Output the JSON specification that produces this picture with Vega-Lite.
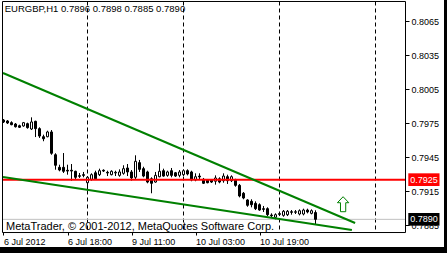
{
  "$schema": "https://vega.github.io/schema/vega-lite/v6.json",
  "width": 444,
  "height": 247,
  "autosize": {"type": "none"},
  "padding": {"left": 0, "top": 0, "right": 3, "bottom": 6},
  "background": "#000000",
  "config": {"view": {"stroke": null, "fill": "#ffffff"}, "font": "Liberation Sans"},
  "datasets": {
    "candles": [
      {"i":0,"o":0.79776,"h":0.79785,"l":0.79750,"c":0.79759},
      {"i":1,"o":0.79768,"h":0.79776,"l":0.79741,"c":0.79750},
      {"i":2,"o":0.79753,"h":0.79765,"l":0.79730,"c":0.79735},
      {"i":3,"o":0.79741,"h":0.79750,"l":0.79710,"c":0.79717},
      {"i":4,"o":0.79726,"h":0.79735,"l":0.79706,"c":0.79712},
      {"i":5,"o":0.79724,"h":0.79759,"l":0.79717,"c":0.79753},
      {"i":6,"o":0.79744,"h":0.79753,"l":0.79700,"c":0.79709},
      {"i":7,"o":0.79697,"h":0.79800,"l":0.79688,"c":0.79759},
      {"i":8,"o":0.79765,"h":0.79770,"l":0.79626,"c":0.79700},
      {"i":9,"o":0.79700,"h":0.79712,"l":0.79618,"c":0.79635},
      {"i":10,"o":0.79629,"h":0.79647,"l":0.79589,"c":0.79611},
      {"i":11,"o":0.79629,"h":0.79682,"l":0.79624,"c":0.79671},
      {"i":12,"o":0.79671,"h":0.79688,"l":0.79470,"c":0.79483},
      {"i":13,"o":0.79470,"h":0.79483,"l":0.79338,"c":0.79377},
      {"i":14,"o":0.79359,"h":0.79382,"l":0.79324,"c":0.79335},
      {"i":15,"o":0.79359,"h":0.79485,"l":0.79309,"c":0.79324},
      {"i":16,"o":0.79333,"h":0.79382,"l":0.79294,"c":0.79326},
      {"i":17,"o":0.79333,"h":0.79388,"l":0.79241,"c":0.79326},
      {"i":18,"o":0.79324,"h":0.79329,"l":0.79247,"c":0.79271},
      {"i":19,"o":0.79285,"h":0.79309,"l":0.79265,"c":0.79280},
      {"i":20,"o":0.79294,"h":0.79318,"l":0.79271,"c":0.79288},
      {"i":21,"o":0.79223,"h":0.79282,"l":0.79159,"c":0.79271},
      {"i":22,"o":0.79253,"h":0.79306,"l":0.79241,"c":0.79294},
      {"i":23,"o":0.79311,"h":0.79329,"l":0.79247,"c":0.79258},
      {"i":24,"o":0.79294,"h":0.79347,"l":0.79282,"c":0.79329},
      {"i":25,"o":0.79333,"h":0.79341,"l":0.79318,"c":0.79326},
      {"i":26,"o":0.79315,"h":0.79329,"l":0.79282,"c":0.79309},
      {"i":27,"o":0.79294,"h":0.79333,"l":0.79288,"c":0.79324},
      {"i":28,"o":0.79309,"h":0.79329,"l":0.79282,"c":0.79315},
      {"i":29,"o":0.79288,"h":0.79341,"l":0.79276,"c":0.79318},
      {"i":30,"o":0.79306,"h":0.79377,"l":0.79294,"c":0.79347},
      {"i":31,"o":0.79353,"h":0.79388,"l":0.79282,"c":0.79318},
      {"i":32,"o":0.79318,"h":0.79335,"l":0.79241,"c":0.79265},
      {"i":33,"o":0.79271,"h":0.79465,"l":0.79253,"c":0.79412},
      {"i":34,"o":0.79400,"h":0.79424,"l":0.79318,"c":0.79341},
      {"i":35,"o":0.79347,"h":0.79364,"l":0.79271,"c":0.79282},
      {"i":36,"o":0.79318,"h":0.79329,"l":0.79218,"c":0.79229},
      {"i":37,"o":0.79258,"h":0.79271,"l":0.79130,"c":0.79218},
      {"i":38,"o":0.79229,"h":0.79318,"l":0.79223,"c":0.79288},
      {"i":39,"o":0.79276,"h":0.79394,"l":0.79271,"c":0.79324},
      {"i":40,"o":0.79329,"h":0.79347,"l":0.79276,"c":0.79282},
      {"i":41,"o":0.79288,"h":0.79329,"l":0.79276,"c":0.79318},
      {"i":42,"o":0.79329,"h":0.79353,"l":0.79271,"c":0.79288},
      {"i":43,"o":0.79311,"h":0.79318,"l":0.79274,"c":0.79282},
      {"i":44,"o":0.79288,"h":0.79335,"l":0.79271,"c":0.79318},
      {"i":45,"o":0.79294,"h":0.79341,"l":0.79282,"c":0.79329},
      {"i":46,"o":0.79329,"h":0.79341,"l":0.79288,"c":0.79300},
      {"i":47,"o":0.79318,"h":0.79329,"l":0.79236,"c":0.79247},
      {"i":48,"o":0.79247,"h":0.79306,"l":0.79236,"c":0.79276},
      {"i":49,"o":0.79282,"h":0.79306,"l":0.79247,"c":0.79274},
      {"i":50,"o":0.79253,"h":0.79265,"l":0.79212,"c":0.79218},
      {"i":51,"o":0.79247,"h":0.79256,"l":0.79218,"c":0.79223},
      {"i":52,"o":0.79247,"h":0.79256,"l":0.79221,"c":0.79229},
      {"i":53,"o":0.79236,"h":0.79288,"l":0.79206,"c":0.79265},
      {"i":54,"o":0.79258,"h":0.79271,"l":0.79218,"c":0.79229},
      {"i":55,"o":0.79241,"h":0.79306,"l":0.79223,"c":0.79282},
      {"i":56,"o":0.79276,"h":0.79294,"l":0.79212,"c":0.79241},
      {"i":57,"o":0.79241,"h":0.79288,"l":0.79229,"c":0.79276},
      {"i":58,"o":0.79247,"h":0.79258,"l":0.79188,"c":0.79200},
      {"i":59,"o":0.79200,"h":0.79212,"l":0.79094,"c":0.79106},
      {"i":60,"o":0.79130,"h":0.79141,"l":0.79077,"c":0.79088},
      {"i":61,"o":0.79071,"h":0.79077,"l":0.79011,"c":0.79024},
      {"i":62,"o":0.79059,"h":0.79077,"l":0.79006,"c":0.79029},
      {"i":63,"o":0.79041,"h":0.79059,"l":0.78982,"c":0.78994},
      {"i":64,"o":0.79029,"h":0.79041,"l":0.78976,"c":0.78982},
      {"i":65,"o":0.78994,"h":0.79018,"l":0.78965,"c":0.78988},
      {"i":66,"o":0.78994,"h":0.79006,"l":0.78929,"c":0.78941},
      {"i":67,"o":0.78938,"h":0.78953,"l":0.78918,"c":0.78932},
      {"i":68,"o":0.78918,"h":0.78953,"l":0.78900,"c":0.78941},
      {"i":69,"o":0.78950,"h":0.78965,"l":0.78929,"c":0.78944},
      {"i":70,"o":0.78935,"h":0.78982,"l":0.78923,"c":0.78971},
      {"i":71,"o":0.78941,"h":0.78982,"l":0.78929,"c":0.78971},
      {"i":72,"o":0.78967,"h":0.78982,"l":0.78941,"c":0.78962},
      {"i":73,"o":0.78962,"h":0.78982,"l":0.78947,"c":0.78967},
      {"i":74,"o":0.78947,"h":0.78988,"l":0.78935,"c":0.78976},
      {"i":75,"o":0.78947,"h":0.78994,"l":0.78935,"c":0.78982},
      {"i":76,"o":0.78982,"h":0.78994,"l":0.78953,"c":0.78965},
      {"i":77,"o":0.78953,"h":0.78988,"l":0.78944,"c":0.78976},
      {"i":78,"o":0.78960,"h":0.78980,"l":0.78850,"c":0.78900}
    ],
    "seps": [{"i": 21}, {"i": 45}, {"i": 69}, {"i": 93}],
    "one": [{}]
  },
  "data": {"name": "one"},
  "layer": [
    {
      "data": {"name": "seps"},
      "mark": {"type": "rule", "color": "#000000", "strokeWidth": 1, "strokeDash": [4, 3]},
      "encoding": {
        "x": {
          "field": "i", "type": "quantitative",
          "scale": {"domain": [-0.875, 110.125], "nice": false, "zero": false, "padding": 0},
          "axis": {
            "orient": "bottom", "offset": -15, "values": [0, 16, 32, 48, 64],
            "labelExpr": "datum.value == 0 ? '6 Jul 2012' : datum.value == 16 ? '6 Jul 18:00' : datum.value == 32 ? '9 Jul 11:00' : datum.value == 48 ? '10 Jul 03:00' : '10 Jul 19:00'",
            "domain": false, "grid": false, "ticks": true, "tickSize": 3, "tickColor": "#000000",
            "labelAlign": "left", "labelBaseline": "top", "labelPadding": 2,
            "labelFont": "Liberation Sans", "labelFontSize": 9, "labelColor": "#000000",
            "labelFlush": false, "labelOverlap": false, "title": null
          }
        },
        "y": {
          "datum": 0.808221, "type": "quantitative",
          "scale": {"domain": [0.786559, 0.808353], "nice": false, "zero": false, "padding": 0},
          "axis": {
            "orient": "right", "offset": -39,
            "values": [0.8065, 0.8035, 0.8005, 0.7975, 0.7945, 0.7915, 0.7885],
            "format": ".4f", "domain": false, "grid": false, "ticks": true, "tickSize": 4,
            "tickColor": "#000000", "labelPadding": 2, "labelBaseline": "middle",
            "labelFont": "Liberation Sans", "labelFontSize": 9, "labelColor": "#000000",
            "labelFlush": false, "labelOverlap": false, "title": null
          }
        },
        "y2": {"datum": 0.787837}
      }
    },
    {
      "mark": {"type": "rule", "color": "#c0c0c0", "strokeWidth": 1},
      "encoding": {
        "x": {"datum": -0.25, "type": "quantitative"},
        "x2": {"datum": 100.5},
        "y": {"datum": 0.789, "type": "quantitative"}
      }
    },
    {
      "data": {"name": "candles"},
      "mark": {"type": "rule", "color": "#000000", "strokeWidth": 1},
      "encoding": {
        "x": {"field": "i", "type": "quantitative"},
        "y": {"field": "l", "type": "quantitative"},
        "y2": {"field": "h"}
      }
    },
    {
      "data": {"name": "candles"},
      "mark": {"type": "bar", "size": 2, "stroke": "#000000", "strokeWidth": 1},
      "encoding": {
        "x": {"field": "i", "type": "quantitative"},
        "y": {"field": "o", "type": "quantitative"},
        "y2": {"field": "c"},
        "fill": {"condition": {"test": "datum.c < datum.o", "value": "#000000"}, "value": "#ffffff"}
      }
    },
    {
      "mark": {"type": "rule", "color": "#ff0000", "strokeWidth": 2},
      "encoding": {
        "x": {"datum": -0.25, "type": "quantitative"},
        "x2": {"datum": 100.5},
        "y": {"datum": 0.7925, "type": "quantitative"}
      }
    },
    {
      "mark": {"type": "rule", "color": "#008000", "strokeWidth": 2},
      "encoding": {
        "x": {"datum": -0.125, "type": "quantitative"},
        "x2": {"datum": 87.9},
        "y": {"datum": 0.801911, "type": "quantitative"},
        "y2": {"datum": 0.788675}
      }
    },
    {
      "mark": {"type": "rule", "color": "#008000", "strokeWidth": 2},
      "encoding": {
        "x": {"datum": -0.125, "type": "quantitative"},
        "x2": {"datum": 87.1},
        "y": {"datum": 0.792735, "type": "quantitative"},
        "y2": {"datum": 0.788058}
      }
    },
    {
      "mark": {"type": "point", "shape": "M0,-1L0.76,-0.2L0.35,-0.2L0.35,1L-0.35,1L-0.35,-0.2L-0.76,-0.2Z", "size": 225, "filled": true, "fill": "#ffffff", "stroke": "#008000", "strokeWidth": 1, "opacity": 1},
      "encoding": {
        "x": {"datum": 84.9, "type": "quantitative"},
        "y": {"datum": 0.790334, "type": "quantitative"}
      }
    },
    {
      "mark": {"type": "rect", "fill": "#ff0000"},
      "encoding": {
        "x": {"datum": 101.2, "type": "quantitative"},
        "x2": {"datum": 109},
        "y": {"datum": 0.79306, "type": "quantitative"},
        "y2": {"datum": 0.79194}
      }
    },
    {
      "mark": {"type": "text", "text": "0.7925", "color": "#ffffff", "font": "Liberation Sans", "fontSize": 9, "align": "center", "baseline": "middle"},
      "encoding": {
        "x": {"datum": 105.1, "type": "quantitative"},
        "y": {"datum": 0.7925, "type": "quantitative"}
      }
    },
    {
      "mark": {"type": "rect", "fill": "#000000"},
      "encoding": {
        "x": {"datum": 101.2, "type": "quantitative"},
        "x2": {"datum": 109},
        "y": {"datum": 0.78956, "type": "quantitative"},
        "y2": {"datum": 0.78844}
      }
    },
    {
      "mark": {"type": "text", "text": "0.7890", "color": "#ffffff", "font": "Liberation Sans", "fontSize": 9, "align": "center", "baseline": "middle"},
      "encoding": {
        "x": {"datum": 105.1, "type": "quantitative"},
        "y": {"datum": 0.789, "type": "quantitative"}
      }
    },
    {
      "mark": {"type": "text", "text": "EURGBP,H1  0.7896 0.7898 0.7885 0.7890", "color": "#000000", "font": "Liberation Sans", "fontSize": 9.5, "align": "left", "baseline": "alphabetic"},
      "encoding": {
        "x": {"datum": 0.3, "type": "quantitative"},
        "y": {"datum": 0.807294, "type": "quantitative"}
      }
    },
    {
      "mark": {"type": "text", "text": "MetaTrader, © 2001-2012, MetaQuotes Software Corp.", "color": "#000000", "font": "Liberation Sans", "fontSize": 11, "align": "left", "baseline": "alphabetic"},
      "encoding": {
        "x": {"datum": 0.625, "type": "quantitative"},
        "y": {"datum": 0.788058, "type": "quantitative"}
      }
    },
    {
      "mark": {"type": "rule", "color": "#000000", "strokeWidth": 1},
      "encoding": {
        "x": {"datum": -0.25, "type": "quantitative"},
        "x2": {"datum": 100.5},
        "y": {"datum": 0.808221, "type": "quantitative"}
      }
    },
    {
      "mark": {"type": "rule", "color": "#000000", "strokeWidth": 1},
      "encoding": {
        "x": {"datum": -0.25, "type": "quantitative"},
        "x2": {"datum": 100.5},
        "y": {"datum": 0.787837, "type": "quantitative"}
      }
    },
    {
      "mark": {"type": "rule", "color": "#000000", "strokeWidth": 1},
      "encoding": {
        "x": {"datum": -0.25, "type": "quantitative"},
        "y": {"datum": 0.808221, "type": "quantitative"},
        "y2": {"datum": 0.787837}
      }
    },
    {
      "mark": {"type": "rule", "color": "#000000", "strokeWidth": 1},
      "encoding": {
        "x": {"datum": 100.5, "type": "quantitative"},
        "y": {"datum": 0.808221, "type": "quantitative"},
        "y2": {"datum": 0.787837}
      }
    }
  ]
}
